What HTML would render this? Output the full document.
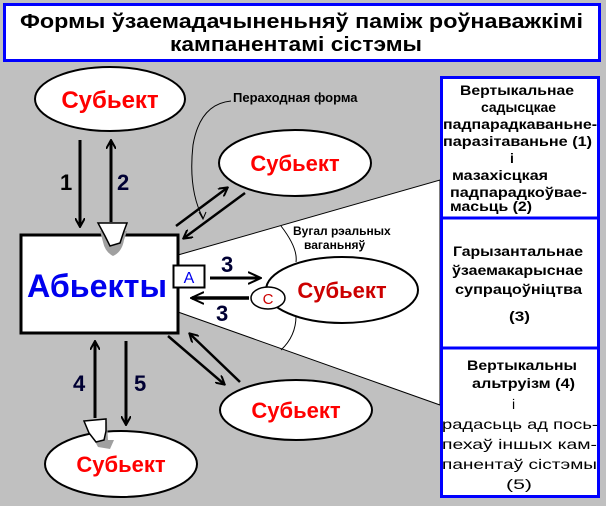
<!DOCTYPE html>
<html><head><meta charset="utf-8"><style>
html,body{margin:0;padding:0;background:#c0c0c0;}
svg{display:block;}
text{font-family:"Liberation Sans","DejaVu Sans",sans-serif;}
</style></head><body>
<svg width="606" height="506" viewBox="0 0 606 506" xmlns="http://www.w3.org/2000/svg">
<defs>
<marker id="ah" markerWidth="10" markerHeight="10" refX="8" refY="5" orient="auto" markerUnits="userSpaceOnUse" viewBox="0 0 10 10">
<path d="M0,0 L9,5 L0,10" fill="none" stroke="#000" stroke-width="2"/>
</marker>
<marker id="ah2" markerWidth="14" markerHeight="14" refX="12" refY="7" orient="auto" markerUnits="userSpaceOnUse" viewBox="0 0 14 14">
<path d="M0,1 L13,7 L0,13" fill="none" stroke="#000" stroke-width="2"/>
</marker>
</defs>
<rect width="606" height="506" fill="#c0c0c0"/>
<rect x="4.5" y="4.5" width="595" height="56" fill="#fff" stroke="#0000ff" stroke-width="3"/>
<text x="20" y="28" font-size="20" font-weight="bold" fill="#000" textLength="563" lengthAdjust="spacingAndGlyphs">Формы ўзаемадачыненьняў паміж роўнаважкімі</text>
<text x="170" y="51" font-size="20" font-weight="bold" fill="#000" textLength="252" lengthAdjust="spacingAndGlyphs">кампанентамі сістэмы</text>
<polygon points="178,255 440,180 440,405 178,312" fill="#fff" stroke="#000" stroke-width="1"/>
<path d="M281,226 Q298,248 296,262" fill="none" stroke="#000" stroke-width="1"/>
<path d="M296,316 Q296,336 281,350" fill="none" stroke="#000" stroke-width="1"/>
<text x="293" y="235" font-size="12" font-weight="bold">Вугал рэальных</text>
<text x="304" y="249" font-size="12" font-weight="bold">ваганьняў</text>
<text x="233" y="102" font-size="13" font-weight="bold">Пераходная форма</text>
<path d="M231,101 Q200,104 193,145 Q188,190 203,218" fill="none" stroke="#000" stroke-width="1"/>
<path d="M199,212 L203,219 L206,212" fill="none" stroke="#000" stroke-width="1"/>
<ellipse cx="110" cy="99" rx="75" ry="32" fill="#fff" stroke="#000" stroke-width="2"/>
<text x="110" y="108" text-anchor="middle" font-size="24" font-weight="bold" fill="#ff0000">Субьект</text>
<ellipse cx="295" cy="163" rx="76" ry="33" fill="#fff" stroke="#000" stroke-width="2"/>
<text x="295" y="171" text-anchor="middle" font-size="22" font-weight="bold" fill="#ff0000">Субьект</text>
<ellipse cx="342" cy="290" rx="76" ry="33" fill="#fff" stroke="#000" stroke-width="2"/>
<text x="342" y="298" text-anchor="middle" font-size="22" font-weight="bold" fill="#cc0000">Субьект</text>
<ellipse cx="296" cy="410" rx="76" ry="30" fill="#fff" stroke="#000" stroke-width="2"/>
<text x="296" y="418" text-anchor="middle" font-size="22" font-weight="bold" fill="#ff0000">Субьект</text>
<ellipse cx="121" cy="464" rx="76" ry="33" fill="#fff" stroke="#000" stroke-width="2"/>
<text x="121" y="472" text-anchor="middle" font-size="22" font-weight="bold" fill="#ff0000">Субьект</text>
<ellipse cx="268" cy="298" rx="17" ry="11" fill="#fff" stroke="#000" stroke-width="1.5"/>
<text x="268" y="304" text-anchor="middle" font-size="15" font-family="Liberation Serif" fill="#cc0000">C</text>
<rect x="21" y="235" width="157" height="98" fill="#fff" stroke="#000" stroke-width="3"/>
<text x="27" y="297" font-size="32" font-weight="bold" fill="#0000ee" textLength="140" lengthAdjust="spacingAndGlyphs">Абьекты</text>
<path d="M100,231 L127,231 L124,240 Q122,252 113,256 Q105,252 103,242 Z" fill="#a0a0a0"/>
<path d="M98,223 L127,223 L124,231 L120,243 L110,246 L105,236 Z" fill="#fff" stroke="#000" stroke-width="1.5"/>
<path d="M86,425 L107,422 L108,440 L114,440 L110,449 L98,447 Z" fill="#a0a0a0"/>
<path d="M84,421 L106,419 L106,431 L104,440 L96,442 L89,433 Z" fill="#fff" stroke="#000" stroke-width="1.5"/>
<rect x="173.5" y="265.5" width="31" height="22" fill="#fff" stroke="#000" stroke-width="2"/>
<text x="189" y="283" text-anchor="middle" font-size="16" fill="#0000ee">A</text>
<line x1="80" y1="140" x2="80" y2="226" stroke="#000" stroke-width="3" marker-end="url(#ah)"/>
<line x1="111" y1="222" x2="111" y2="141" stroke="#000" stroke-width="3" marker-end="url(#ah)"/>
<text x="60" y="190" font-size="22" font-weight="bold">1</text>
<text x="117" y="190" font-size="22" font-weight="bold" fill="#000033">2</text>
<line x1="95" y1="418" x2="95" y2="342" stroke="#000" stroke-width="3" marker-end="url(#ah)"/>
<line x1="126" y1="341" x2="126" y2="424" stroke="#000" stroke-width="3" marker-end="url(#ah)"/>
<text x="73" y="391" font-size="22" font-weight="bold" fill="#000033">4</text>
<text x="134" y="391" font-size="22" font-weight="bold" fill="#000033">5</text>
<line x1="176" y1="226" x2="227" y2="188" stroke="#000" stroke-width="2.5" marker-end="url(#ah)"/>
<line x1="245" y1="193" x2="184" y2="238" stroke="#000" stroke-width="2.5" marker-end="url(#ah)"/>
<line x1="168" y1="336" x2="224" y2="384" stroke="#000" stroke-width="2.5" marker-end="url(#ah)"/>
<line x1="240" y1="382" x2="190" y2="334" stroke="#000" stroke-width="2.5" marker-end="url(#ah)"/>
<line x1="210" y1="278" x2="260" y2="278" stroke="#000" stroke-width="3" marker-end="url(#ah2)"/>
<line x1="249" y1="298" x2="192" y2="298" stroke="#000" stroke-width="3.5" marker-end="url(#ah2)"/>
<text x="221" y="272" font-size="22" font-weight="bold" fill="#000033">3</text>
<text x="216" y="321" font-size="22" font-weight="bold" fill="#000033">3</text>
<rect x="441.5" y="77.5" width="157" height="419" fill="#fff" stroke="#0000ff" stroke-width="3"/>
<line x1="441" y1="218" x2="599" y2="218" stroke="#0000ff" stroke-width="3"/>
<line x1="441" y1="348" x2="599" y2="348" stroke="#0000ff" stroke-width="3"/>
<g font-size="14" font-weight="bold" lengthAdjust="spacingAndGlyphs">
<text x="460" y="95" textLength="114" lengthAdjust="spacingAndGlyphs">Вертыкальнае</text>
<text x="481" y="112" textLength="75" lengthAdjust="spacingAndGlyphs">садысцкае</text>
<text x="443" y="129" textLength="154" lengthAdjust="spacingAndGlyphs">падпарадкаваньне-</text>
<text x="443" y="146" textLength="149" lengthAdjust="spacingAndGlyphs">паразітаваньне (1)</text>
<text x="510" y="163">і</text>
<text x="452" y="180" textLength="96" lengthAdjust="spacingAndGlyphs">мазахісцкая</text>
<text x="450" y="197" textLength="137" lengthAdjust="spacingAndGlyphs">падпарадкоўвае-</text>
<text x="450" y="211" textLength="82" lengthAdjust="spacingAndGlyphs">масьць (2)</text>
<text x="453" y="256" textLength="130" lengthAdjust="spacingAndGlyphs">Гарызантальнае</text>
<text x="452" y="275" textLength="131" lengthAdjust="spacingAndGlyphs">ўзаемакарыснае</text>
<text x="455" y="294" textLength="127" lengthAdjust="spacingAndGlyphs">супрацоўніцтва</text>
<text x="509" y="321" textLength="21" lengthAdjust="spacingAndGlyphs">(3)</text>
<text x="467" y="370" textLength="110" lengthAdjust="spacingAndGlyphs">Вертыкальны</text>
<text x="472" y="388" textLength="103" lengthAdjust="spacingAndGlyphs">альтруізм (4)</text>
</g>
<g font-size="14">
<text x="512" y="409">і</text>
<text x="442" y="429" textLength="156" lengthAdjust="spacingAndGlyphs">радасьць ад пось-</text>
<text x="442" y="449" textLength="155" lengthAdjust="spacingAndGlyphs">пехаў іншых кам-</text>
<text x="442" y="469" textLength="155" lengthAdjust="spacingAndGlyphs">панентаў сістэмы</text>
<text x="506" y="489" textLength="26" lengthAdjust="spacingAndGlyphs">(5)</text>
</g>
</svg>
</body></html>
